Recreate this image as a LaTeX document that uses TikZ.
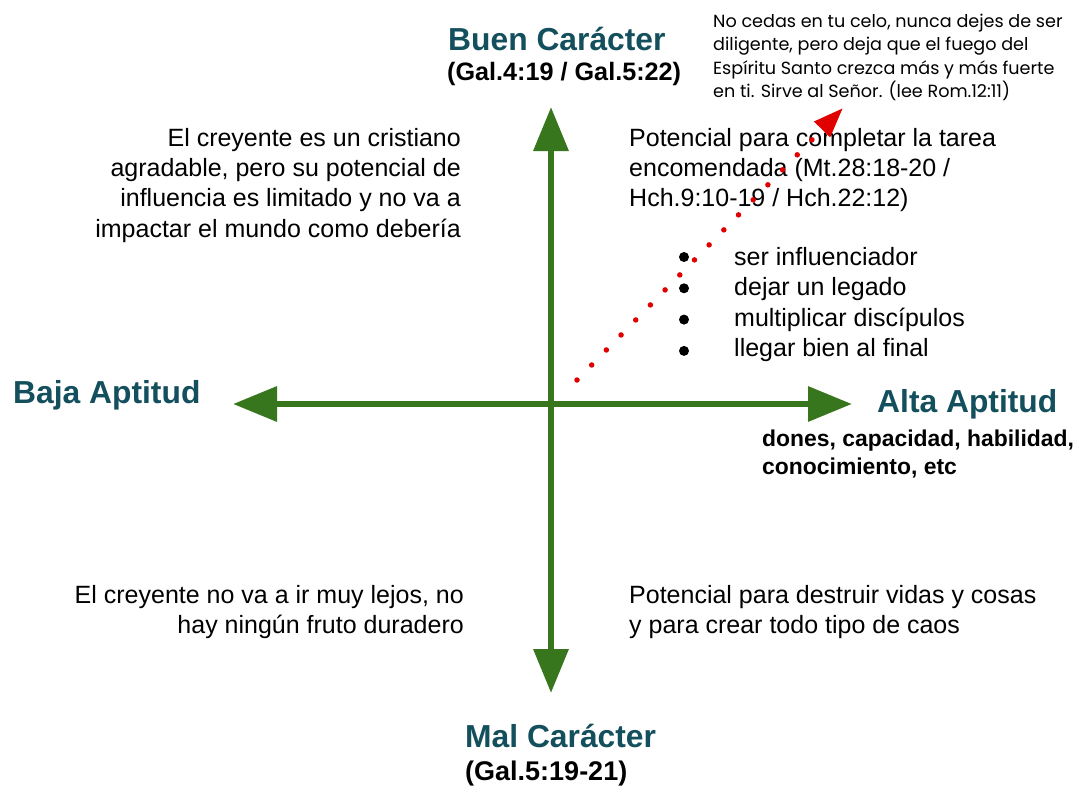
\documentclass[tikz,border=0pt]{standalone}
\usepackage{fontspec}
\setmainfont{Liberation Sans}
\newfontfamily\notafont{Poppins}
\usetikzlibrary{arrows.meta}
\definecolor{verdeeje}{HTML}{38761D}
\definecolor{tealoscuro}{HTML}{134F5C}
\definecolor{rojopunto}{HTML}{E00000}

\begin{document}
\begin{tikzpicture}[x=1pt, y=-1pt,
    eje/.style={draw=verdeeje, line width=6.5pt, {Triangle[length=44pt,width=34pt]}-{Triangle[length=44pt,width=34pt]}},
    punteado/.style={draw=rojopunto, line width=5.5pt, line cap=round, dash pattern=on 0pt off 21pt, -{Triangle[length=30pt,width=21pt]}},
    rotulo/.style={font=\bfseries\fontsize{31.8}{36}\selectfont, text=tealoscuro, inner sep=0pt},
    cita/.style={font=\bfseries\fontsize{25.2}{29}\selectfont, inner sep=0pt},
    cuerpo/.style={font=\fontsize{25}{30.3}\selectfont, inner sep=0pt},
    nota/.style={font=\notafont\fontsize{17.6}{23.4}\selectfont, inner sep=0pt}]

% Fondo y marco
\path[fill=white, use as bounding box] (0,0) rectangle (1079,795);

% Ejes
\coordinate (arriba) at (551,107);
\coordinate (abajo) at (551,693);
\coordinate (izq) at (233,404);
\coordinate (der) at (852,404);
\draw[eje] (abajo) -- (arriba);
\draw[eje] (izq) -- (der);

% Rotulos de los ejes
\node[rotulo, anchor=base west] (buen) at (448,50) {Buen Carácter};
\node[cita, anchor=base west] (buencita) at (447,80) {(Gal.4:19 / Gal.5:22)};
\node[rotulo, anchor=base west] (baja) at (13,403) {Baja Aptitud};
\node[rotulo, anchor=base west] (alta) at (877,412) {Alta Aptitud};
\node[font=\bfseries\fontsize{22.9}{28}\selectfont, inner sep=0pt, anchor=north west, align=left] (altacita) at (762,430)
    {dones, capacidad, habilidad,\\conocimiento, etc};
\node[rotulo, anchor=base west] (mal) at (465,747) {Mal Carácter};
\node[cita, font=\bfseries\fontsize{27}{31}\selectfont, anchor=base west] (malcita) at (465,780) {(Gal.5:19-21)};

% Cuadrantes
\node[cuerpo, anchor=north east, align=right] (arribaizq) at (461,128)
    {El creyente es un cristiano\\agradable, pero su potencial de\\influencia es limitado y no va a\\impactar el mundo como debería};
\node[cuerpo, anchor=north west, align=left] (arribader) at (629,128)
    {Potencial para completar la tarea\\encomendada (Mt.28:18-20 /\\Hch.9:10-19 / Hch.22:12)};
\node[cuerpo, anchor=north east, align=right] (abajoizq) at (464,585)
    {El creyente no va a ir muy lejos, no\\hay ningún fruto duradero};
\node[cuerpo, anchor=north west, align=left] (abajoder) at (629,585)
    {Potencial para destruir vidas y cosas\\y para crear todo tipo de caos};

% Lista
\foreach \i/\txt in {0/ser influenciador, 1/dejar un legado, 2/multiplicar discípulos, 3/llegar bien al final} {
    \fill (684,257+31.3*\i) circle (5pt);
    \node[cuerpo, anchor=base west] (item\i) at (734,265+30.5*\i) {\txt};
}

% Nota y flecha roja
\node[nota, anchor=north west, align=left] (nota) at (713,14)
    {No cedas en tu celo, nunca dejes de ser\\diligente, pero deja que el fuego del\\Espíritu Santo crezca más y más fuerte\\en ti. Sirve al Señor. (lee Rom.12:11)};
\coordinate (rojoini) at (577,380);
\coordinate (rojofin) at (843,108);
\draw[punteado] (rojoini) -- (rojofin);

\end{tikzpicture}
\end{document}
